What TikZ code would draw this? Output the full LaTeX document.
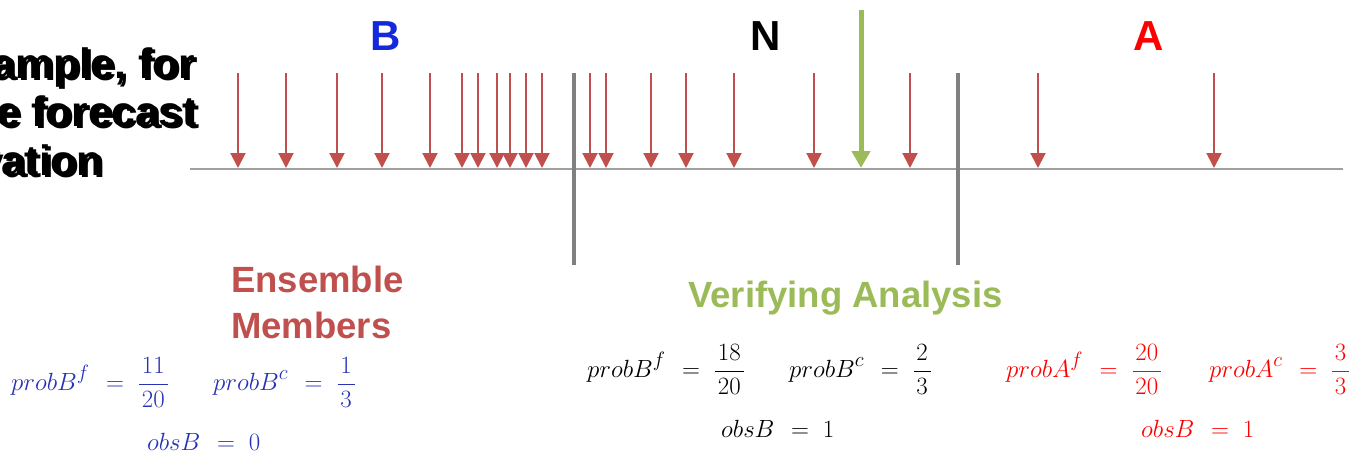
\documentclass[tikz,border=0pt]{standalone}
\usepackage{fontspec}
\setmainfont{Liberation Sans}
\usetikzlibrary{arrows.meta}
\definecolor{memberred}{HTML}{C0504D}
\definecolor{verifgreen}{HTML}{9BBB59}
\definecolor{axisgray}{HTML}{A0A0A0}
\definecolor{bargray}{HTML}{808080}
\definecolor{catblue}{RGB}{20,40,220}
\definecolor{mathblue}{RGB}{40,50,180}
\definecolor{catred}{RGB}{255,0,0}
% spaced-out relation and fraction, as in the slide's equations
\newcommand{\releq}{\mkern7mu=\mkern5mu}
\newcommand{\wfrac}[2]{\frac{\mkern2mu#1\mkern2mu}{\mkern2mu#2\mkern2mu}}
\begin{document}
\begin{tikzpicture}[x=1pt,y=-1pt,
  member/.style={draw=memberred, line width=2pt, -{Triangle[width=15pt,length=15pt]}},
  analysis/.style={draw=verifgreen, line width=5pt, -{Triangle[width=18pt,length=17pt]}},
  axisline/.style={draw=axisgray, line width=2pt},
  divider/.style={draw=bargray, line width=4pt},
  category/.style={font=\fontsize{42}{50}\selectfont\bfseries, anchor=base, inner sep=0},
  caption/.style={font=\fontsize{36.5}{46}\selectfont\bfseries, anchor=base west, align=left, inner sep=0},
  intro/.style={font=\fontsize{42.5}{48}\selectfont\bfseries, anchor=base east, inner sep=0},
  eq/.style={font=\fontsize{30}{36}\selectfont, anchor=base west, inner sep=0}]
\useasboundingbox (0,0) rectangle (1355,453);

% partly hidden introduction, printed twice with a slight offset
\foreach \dx/\dy/\s in {0/0/a,3/2/b} {
  \node[intro] (intro1\s) at (195+\dx,78+\dy) {ample, for};
  \node[intro] (intro2\s) at (197+\dx,126+\dy) {e forecast};
  \node[intro] (intro3\s) at (103+\dx,175+\dy) {vation};
}

% value axis and category dividers
\coordinate (axisL) at (190,169);
\coordinate (axisR) at (1343,169);
\draw[axisline] (axisL) -- (axisR);
\coordinate (div1top) at (574,73);  \coordinate (div1bot) at (574,265);
\coordinate (div2top) at (958,73);  \coordinate (div2bot) at (958,265);
\draw[divider] (div1top) -- (div1bot);
\draw[divider] (div2top) -- (div2bot);

% ensemble members
\foreach \x [count=\i] in {238,286,337,382,430,462,478,497,510,526,542,590,606,651,686,734,814,910,1038,1214} {
  \coordinate (m\i top) at (\x,73);
  \coordinate (m\i tip) at (\x,168);
  \draw[member] (m\i top) -- (m\i tip);
}

% verifying analysis
\coordinate (vatop) at (861,10);
\coordinate (vatip) at (861,168);
\draw[analysis] (vatop) -- (vatip);

% category labels
\node[category, text=catblue] (catB) at (386,50) {B};
\node[category, text=black] (catN) at (766,50) {N};
\node[category, text=catred] (catA) at (1149,50) {A};

% legend captions
\node[caption, text=memberred] (members) at (231,338) {Ensemble\\Members};
\node[caption, text=verifgreen] (verif) at (688,307) {Verifying Analysis};

% probabilities, below normal
\node[eq, text=mathblue] (bf) at (11,390) {$\displaystyle probB^{f}\releq\wfrac{11}{20}$};
\node[eq, text=mathblue] (bc) at (213,390) {$\displaystyle probB^{c}\releq\wfrac{1}{3}$};
\node[eq, text=mathblue] (bo) at (147,450) {$obsB\releq0$};

% probabilities, near normal
\node[eq, text=black] (nf) at (587,377) {$\displaystyle probB^{f}\releq\wfrac{18}{20}$};
\node[eq, text=black] (nc) at (789,377) {$\displaystyle probB^{c}\releq\wfrac{2}{3}$};
\node[eq, text=black] (no) at (721,437) {$obsB\releq1$};

% probabilities, above normal
\node[eq, text=catred] (af) at (1006,377) {$\displaystyle probA^{f}\releq\wfrac{20}{20}$};
\node[eq, text=catred] (ac) at (1209,377) {$\displaystyle probA^{c}\releq\wfrac{3}{3}$};
\node[eq, text=catred] (ao) at (1141,437) {$obsB\releq1$};
\end{tikzpicture}
\end{document}
